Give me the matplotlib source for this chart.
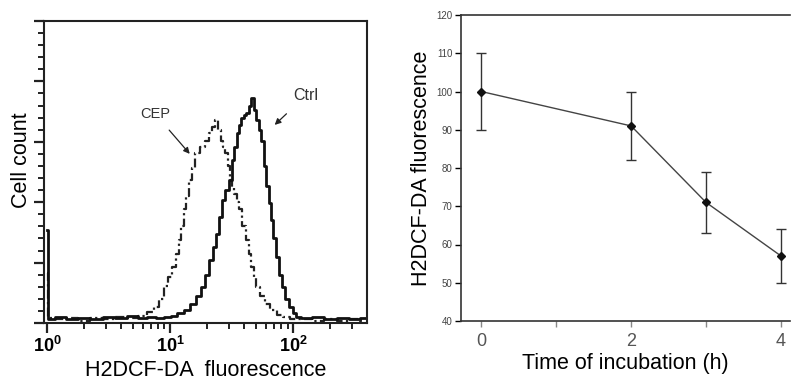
import matplotlib
matplotlib.use("Agg")
import matplotlib.pyplot as plt
import numpy as np
from matplotlib.ticker import LogLocator, MultipleLocator, FixedLocator, NullFormatter

plt.rcParams['font.family'] = ['Liberation Sans', 'DejaVu Sans']
plt.rcParams['mathtext.fontset'] = 'custom'
plt.rcParams['mathtext.rm'] = 'Liberation Sans'
plt.rcParams['mathtext.bf'] = 'Liberation Sans:bold'

# ---------------- data: flow cytometry histogram (log10 of fluorescence, counts)
cep_log10 = [0.00, 0.02, 0.10, 0.20, 0.30, 0.40, 0.50, 0.60, 0.70, 0.78, 0.84, 0.89, 0.93,
             0.97, 1.00, 1.03, 1.06, 1.08, 1.10, 1.12, 1.14, 1.16, 1.19, 1.22, 1.26, 1.30,
             1.33, 1.35, 1.38, 1.40, 1.42, 1.44, 1.46, 1.48, 1.49, 1.51, 1.53, 1.55, 1.57,
             1.60, 1.63, 1.65, 1.67, 1.69, 1.71, 1.75, 1.79, 1.84, 1.89, 1.95, 2.00, 2.10,
             2.20, 2.30, 2.40, 2.50, 2.58]
cep_counts = [41, 4, 3, 4, 2, 4, 3, 5, 4, 6, 9, 13, 20,
              31, 38, 46, 57, 69, 80, 94, 105, 118, 128, 141, 146, 151,
              157, 162, 168, 160, 151, 146, 141, 130, 118, 112, 107, 100, 94,
              80, 69, 57, 46, 38, 30, 22, 16, 11, 7, 5, 3, 3,
              2, 3, 2, 3, 2]

ctrl_log10 = [0.00, 0.02, 0.10, 0.20, 0.30, 0.40, 0.50, 0.60, 0.70, 0.78, 0.85, 0.92, 0.98,
              1.03, 1.08, 1.14, 1.19, 1.23, 1.27, 1.30, 1.33, 1.36, 1.38, 1.41, 1.43, 1.46,
              1.49, 1.51, 1.53, 1.55, 1.57, 1.59, 1.61, 1.63, 1.65, 1.67, 1.69, 1.71, 1.73,
              1.75, 1.77, 1.79, 1.81, 1.83, 1.85, 1.87, 1.90, 1.92, 1.95, 1.98, 2.01, 2.03,
              2.10, 2.20, 2.30, 2.40, 2.50, 2.58]
ctrl_counts = [77, 3, 5, 3, 4, 3, 5, 4, 6, 4, 5, 4, 5,
               6, 8, 11, 16, 22, 30, 40, 52, 63, 74, 88, 102, 110,
               118, 135, 146, 157, 164, 170, 172, 174, 180, 186, 176, 168, 160,
               151, 130, 113, 99, 85, 70, 55, 40, 30, 20, 13, 8, 5,
               4, 5, 3, 4, 3, 4]

hist_xtick_labels = [r'$\mathbf{10^{0}}$', r'$\mathbf{10^{1}}$', r'$\mathbf{10^{2}}$']

# ---------------- data: time course
time_h = [0, 2, 3, 4]
fluor_mean = [100, 91, 71, 57]
fluor_err = [10, 9, 8, 7]
time_tick_labels = ['0', '', '2', '', '4']

fig = plt.figure(figsize=(7.91, 3.80), dpi=100)

# ---------------- left panel
ax1 = fig.add_axes([44/791, 57/380, 323/791, 302/380])
ax1.set_xscale('log')
ax1.plot(10 ** np.array(cep_log10), cep_counts, drawstyle='steps-mid',
         color='#222222', lw=1.6, ls=(0, (4, 1.5, 1, 1.5)))
ax1.plot(10 ** np.array(ctrl_log10), ctrl_counts, drawstyle='steps-mid',
         color='#111111', lw=2.0)
ax1.set_xlim(10 ** -0.024, 10 ** 2.60)
ax1.set_ylim(0, 250)
ax1.xaxis.set_major_locator(FixedLocator([1, 10, 100]))
ax1.set_xticklabels(hist_xtick_labels, fontsize=13)
ax1.xaxis.set_minor_locator(LogLocator(base=10, subs=np.arange(2, 10)))
ax1.xaxis.set_minor_formatter(NullFormatter())
ax1.yaxis.set_major_locator(MultipleLocator(50))
ax1.yaxis.set_minor_locator(MultipleLocator(10))
ax1.set_yticklabels([])
ax1.tick_params(axis='both', which='major', direction='out', length=7, width=1.6, color='#222222', pad=2)
ax1.tick_params(axis='both', which='minor', direction='out', length=4.5, width=1.4, color='#222222')
for s in ax1.spines.values():
    s.set_linewidth(1.5)
    s.set_color('#222222')
ax1.set_ylabel('Cell count', fontsize=15.5)
ax1.yaxis.set_label_coords(-0.037, 0.54)
ax1.set_xlabel('H2DCF-DA  fluorescence', fontsize=15.5, labelpad=3)
ax1.annotate('CEP', xy=(10 ** 1.16, 140), xytext=(10 ** 0.88, 173), fontsize=10.5,
             color='#333333', ha='center', va='center',
             arrowprops=dict(arrowstyle='-|>', color='#222222', lw=0.9, mutation_scale=9,
                             shrinkA=6, shrinkB=0))
ax1.annotate('Ctrl', xy=(10 ** 1.85, 164), xytext=(10 ** 2.1, 188), fontsize=11.5,
             color='#333333', ha='center', va='center',
             arrowprops=dict(arrowstyle='-|>', color='#222222', lw=0.9, mutation_scale=9,
                             shrinkA=8, shrinkB=0))

# ---------------- right panel
ax2 = fig.add_axes([461/791, 59/380, 329/791, 306/380])
ax2.errorbar(time_h, fluor_mean, yerr=fluor_err, color='#444444', lw=1.0,
             marker='D', ms=4.5, mfc='#111111', mec='#111111',
             ecolor='#333333', elinewidth=1.0, capsize=3.5, capthick=1.0)
ax2.set_xlim(-0.27, 4.12)
ax2.set_ylim(40, 120)
ax2.set_xticks([0, 1, 2, 3, 4])
ax2.set_xticklabels(time_tick_labels, fontsize=13, color='#555555')
ax2.set_yticks(np.arange(40, 121, 10))
ax2.tick_params(axis='y', labelsize=7, labelcolor='#444444', direction='out', length=4,
                width=1.0, pad=2)
ax2.tick_params(axis='x', direction='out', length=4, width=1.0, color='#888888', pad=5)
ax2.spines['right'].set_visible(False)
for k in ['left', 'bottom', 'top']:
    ax2.spines[k].set_linewidth(1.2)
    ax2.spines[k].set_color('#333333')
ax2.set_ylabel('H2DCF-DA fluorescence', fontsize=15.5, labelpad=3)
ax2.set_xlabel('Time of incubation (h)', fontsize=15.5, labelpad=2)

fig.savefig('out.png', dpi=100, facecolor='white')
